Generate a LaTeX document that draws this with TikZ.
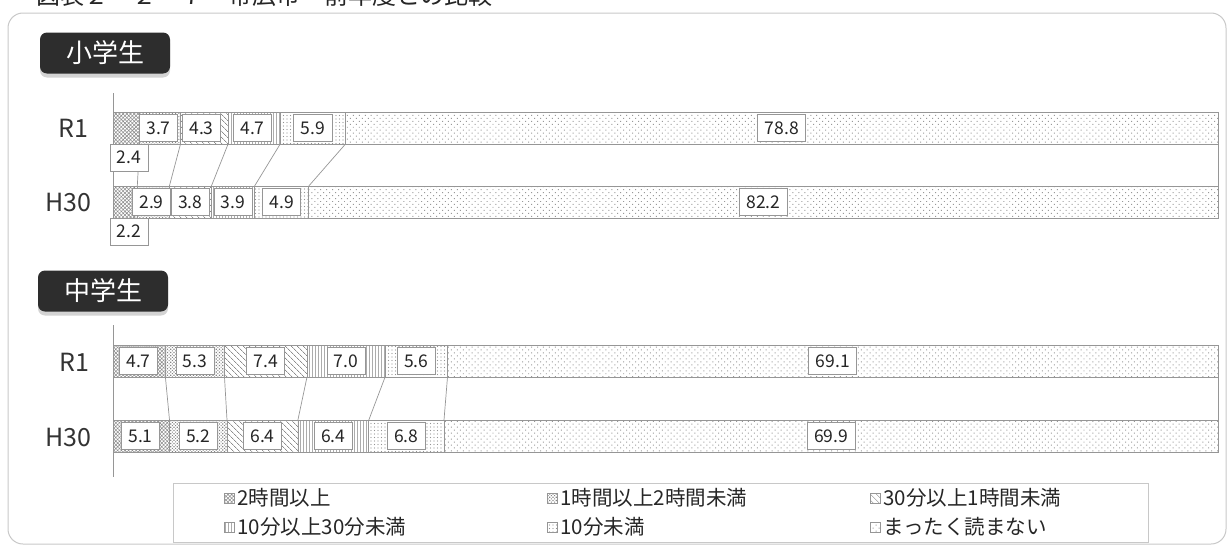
\documentclass[tikz,border=0pt]{standalone}
\usepackage{fontspec}
\setmainfont{Noto Sans CJK JP}
\usepackage{tikz}
\usetikzlibrary{patterns.meta}
\usetikzlibrary{shadows}
\usetikzlibrary{positioning}
\usepackage{xcolor}
\definecolor{gr}{RGB}{150, 150, 150}
\definecolor{lg}{RGB}{200, 200, 200}
\definecolor{bk}{RGB}{45, 45, 45}

\begin{document}
\begin{tikzpicture}[x=1pt, y=-1pt,
    seg/.style={draw=gr, line width=0.7pt},
    cA/.style={seg, pattern={Hatch[angle=45, distance=2.6pt, line width=0.55pt]}, pattern color=gray!90},
    cB/.style={seg, pattern={Dots[angle=45, distance=2.3pt, radius=0.8pt]}, pattern color=gray!95},
    cC/.style={seg, pattern={Lines[angle=-45, distance=4pt, line width=0.7pt]}, pattern color=gray!90},
    cD/.style={seg, pattern={Lines[angle=90, distance=3pt, line width=0.45pt]}, pattern color=gray!65},
    cE/.style={seg, pattern={Dots[distance=3.5pt, radius=0.65pt]}, pattern color=gray!85},
    cF/.style={seg, pattern={Dots[angle=45, distance=4.2pt, radius=0.7pt]}, pattern color=gray!80},
    val/.style={draw=gr, fill=white, line width=0.7pt, text=black!85, font=\fontsize{17.5}{17.5}\selectfont, inner xsep=7pt, inner ysep=0pt, minimum height=27pt},
    row/.style={text=black!80, font=\fontsize{25}{25}\selectfont},
    badge/.style={fill=bk, text=white, rounded corners=7pt, minimum width=130pt, minimum height=41pt, font=\fontsize{26}{26}\selectfont, drop shadow={shadow xshift=0pt, shadow yshift=-4pt, opacity=0.35}},
    serline/.style={draw=gr, line width=0.7pt},
    key/.style={seg, minimum width=10pt, minimum height=10pt, inner sep=0pt},
    keytext/.style={font=\fontsize{20.5}{20.5}\selectfont, text=black!85, inner sep=1pt}]
    \useasboundingbox (0,0) rectangle (1231,546);

    % title, cut at the top edge
    \node[anchor=base west, font=\fontsize{24}{24}\selectfont, text=black!85] (title) at (33,5) {図表２－２－７　帯広市　前年度との比較};
    \draw[lg, line width=1pt, rounded corners=15pt] (8,13) rectangle (1226,544);

    % 小学生
    \node[badge] (sho) at (105,53) {小学生};
    \coordinate (ax1) at (113,93);
    \coordinate (ax2) at (113,245);
    \draw[serline] (ax1) -- (ax2);
    \node[row] (sr) at (73,128) {R1};
    \node[row] (sh) at (68,202) {H30};

    \draw[cA] (113,112) rectangle (139.6,144);
    \draw[cB] (139.6,112) rectangle (180.5,144);
    \draw[cC] (180.5,112) rectangle (228.1,144);
    \draw[cD] (228.1,112) rectangle (280.2,144);
    \draw[cE] (280.2,112) rectangle (345.5,144);
    \draw[cF] (345.5,112) rectangle (1218,144);

    \draw[cA] (113,186) rectangle (137.3,218);
    \draw[cB] (137.3,186) rectangle (169.4,218);
    \draw[cC] (169.4,186) rectangle (211.4,218);
    \draw[cD] (211.4,186) rectangle (254.6,218);
    \draw[cE] (254.6,186) rectangle (308.8,218);
    \draw[cF] (308.8,186) rectangle (1218,218);

    \coordinate (s1) at (139.6,144);  \coordinate (t1) at (137.3,186);
    \coordinate (s2) at (180.5,144);  \coordinate (t2) at (169.4,186);
    \coordinate (s3) at (228.1,144);  \coordinate (t3) at (211.4,186);
    \coordinate (s4) at (280.2,144);  \coordinate (t4) at (254.6,186);
    \coordinate (s5) at (345.5,144);  \coordinate (t5) at (308.8,186);
    \coordinate (s6) at (1218,144);   \coordinate (t6) at (1218,186);
    \draw[serline] (s1) -- (t1);
    \draw[serline] (s2) -- (t2);
    \draw[serline] (s3) -- (t3);
    \draw[serline] (s4) -- (t4);
    \draw[serline] (s5) -- (t5);
    \draw[serline] (s6) -- (t6);

    \node[val] (sr1) at (129,157.5) {2.4};
    \node[val] (sr2) at (158.5,128) {3.7};
    \node[val] (sr3) at (201.5,128) {4.3};
    \node[val] (sr4) at (252.5,128) {4.7};
    \node[val] (sr5) at (312.9,128) {5.9};
    \node[val] (sr6) at (781.8,128) {78.8};

    \node[val] (sh1) at (129,231.5) {2.2};
    \node[val] (sh2) at (151.5,202) {2.9};
    \node[val] (sh3) at (190.4,202) {3.8};
    \node[val] (sh4) at (233.0,202) {3.9};
    \node[val] (sh5) at (281.7,202) {4.9};
    \node[val] (sh6) at (763.4,202) {82.2};

    % 中学生
    \node[badge] (chu) at (103,291) {中学生};
    \coordinate (ax3) at (113,325);
    \coordinate (ax4) at (113,477);
    \draw[serline] (ax3) -- (ax4);
    \node[row] (cr) at (74,362) {R1};
    \node[row] (ch) at (68,437) {H30};

    \draw[cA] (113,345) rectangle (165.4,377);
    \draw[cB] (165.4,345) rectangle (224.5,377);
    \draw[cC] (224.5,345) rectangle (307.0,377);
    \draw[cD] (307.0,345) rectangle (385.1,377);
    \draw[cE] (385.1,345) rectangle (447.5,377);
    \draw[cF] (447.5,345) rectangle (1218,377);

    \draw[cA] (113,420) rectangle (169.5,452);
    \draw[cB] (169.5,420) rectangle (227.0,452);
    \draw[cC] (227.0,420) rectangle (297.9,452);
    \draw[cD] (297.9,420) rectangle (368.8,452);
    \draw[cE] (368.8,420) rectangle (444.0,452);
    \draw[cF] (444.0,420) rectangle (1218,452);

    \coordinate (u1) at (165.4,377);  \coordinate (v1) at (169.5,420);
    \coordinate (u2) at (224.5,377);  \coordinate (v2) at (227.0,420);
    \coordinate (u3) at (307.0,377);  \coordinate (v3) at (297.9,420);
    \coordinate (u4) at (385.1,377);  \coordinate (v4) at (368.8,420);
    \coordinate (u5) at (447.5,377);  \coordinate (v5) at (444.0,420);
    \coordinate (u6) at (1218,377);   \coordinate (v6) at (1218,420);
    \draw[serline] (u1) -- (v1);
    \draw[serline] (u2) -- (v2);
    \draw[serline] (u3) -- (v3);
    \draw[serline] (u4) -- (v4);
    \draw[serline] (u5) -- (v5);
    \draw[serline] (u6) -- (v6);

    \node[val] (cr1) at (138.5,361) {4.7};
    \node[val] (cr2) at (195.0,361) {5.3};
    \node[val] (cr3) at (265.7,361) {7.4};
    \node[val] (cr4) at (346.0,361) {7.0};
    \node[val] (cr5) at (416.3,361) {5.6};
    \node[val] (cr6) at (832.8,361) {69.1};

    \node[val] (ch1) at (140.5,436) {5.1};
    \node[val] (ch2) at (198.3,436) {5.2};
    \node[val] (ch3) at (262.5,436) {6.4};
    \node[val] (ch4) at (333.3,436) {6.4};
    \node[val] (ch5) at (406.4,436) {6.8};
    \node[val] (ch6) at (831.0,436) {69.9};

    % legend
    \draw[lg, line width=1pt] (173,483) rectangle (1148,542);
    \node[key, cA] (k1) at (229,498) {};
    \node[keytext, right=2pt of k1] (l1) {2時間以上};
    \node[key, cB] (k2) at (552,498) {};
    \node[keytext, right=2pt of k2] (l2) {1時間以上2時間未満};
    \node[key, cC] (k3) at (875,498) {};
    \node[keytext, right=2pt of k3] (l3) {30分以上1時間未満};
    \node[key, cD] (k4) at (229,527) {};
    \node[keytext, right=2pt of k4] (l4) {10分以上30分未満};
    \node[key, cE] (k5) at (552,527) {};
    \node[keytext, right=2pt of k5] (l5) {10分未満};
    \node[key, cF] (k6) at (875,527) {};
    \node[keytext, right=2pt of k6] (l6) {まったく読まない};
\end{tikzpicture}
\end{document}
